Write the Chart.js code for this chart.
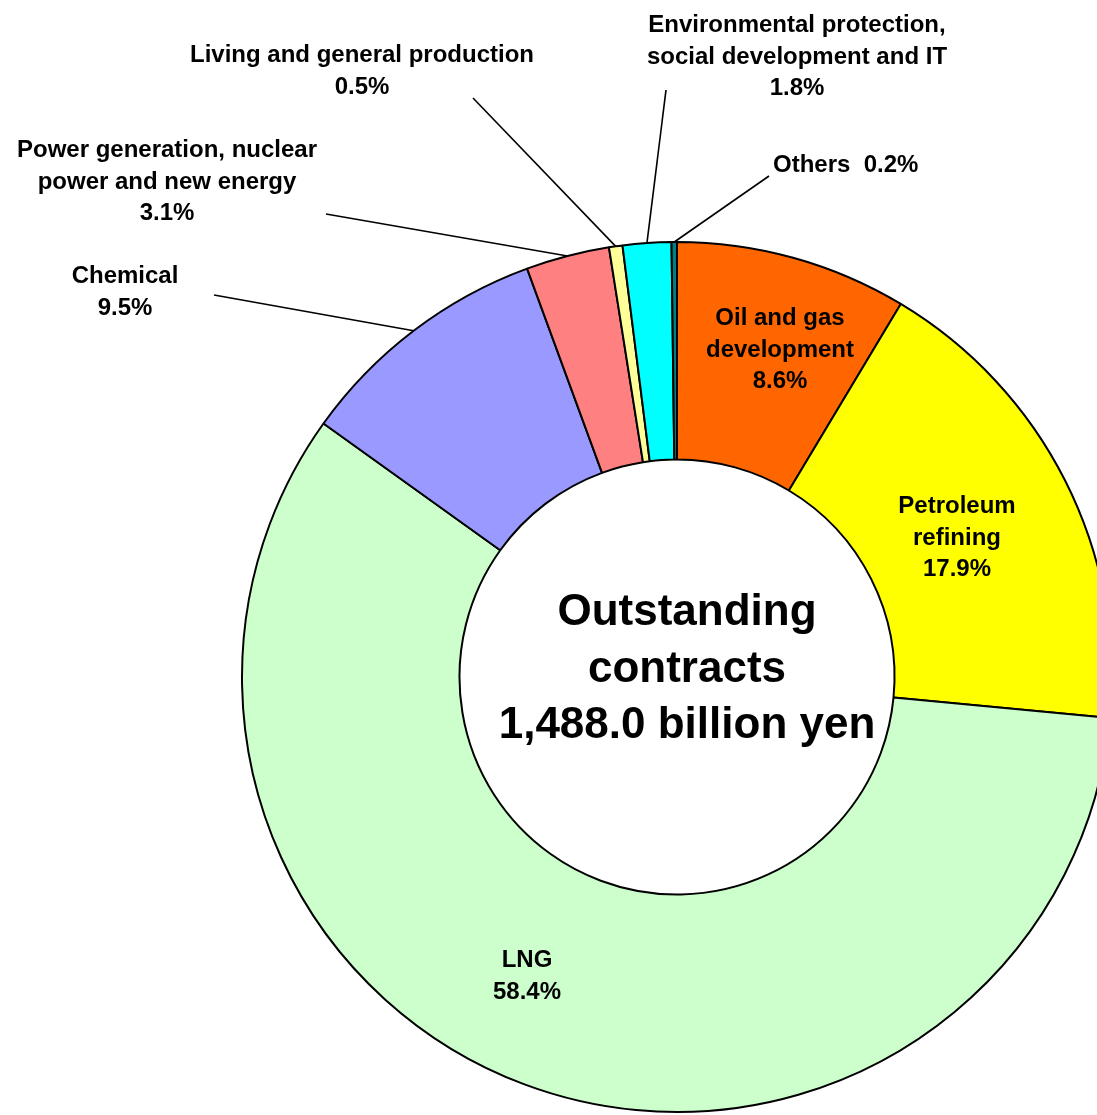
<!DOCTYPE html>
<html>
<head>
<meta charset="utf-8">
<script src="https://cdn.jsdelivr.net/npm/chart.js@4"></script>
<style>
  html, body { margin: 0; padding: 0; background: #fff; overflow: hidden; }
  #wrap { width: 1097px; height: 1115px; overflow: hidden; position: relative; }
</style>
</head>
<body>
<div id="wrap"><canvas id="contractsChart" width="1354" height="1115"></canvas></div>
<script>
const categories = [
    "Oil and gas development",
    "Petroleum refining",
    "LNG",
    "Chemical",
    "Power generation, nuclear power and new energy",
    "Living and general production",
    "Environmental protection, social development and IT",
    "Others"
];
const shares = [8.6, 17.9, 58.4, 9.5, 3.1, 0.5, 1.8, 0.2];
const sliceColors = ["#FF6600", "#FFFF00", "#CCFFCC", "#9999FF", "#FF8080", "#FFFF99", "#00FFFF", "#008080"];
const labelLines = [
    ["Oil and gas", "development"],
    ["Petroleum", "refining"],
    ["LNG"],
    ["Chemical"],
    ["Power generation, nuclear", "power and new energy"],
    ["Living and general production"],
    ["Environmental protection,", "social development and IT"],
    ["Others"]
];
const centerLines = ["Outstanding", "contracts", "1,488.0 billion yen"];

// where each label sits (text centre x, first baseline y) and where its leader starts
const labelPlaces = [
    { x: 780, y: 325 },
    { x: 957, y: 513 },
    { x: 527, y: 967 },
    { x: 125, y: 283, from: [214, 295] },
    { x: 167, y: 157, from: [326, 214] },
    { x: 362, y: 62, from: [473, 98] },
    { x: 797, y: 32, from: [666, 90] },
    { x: 773, y: 172, from: [769, 176], inline: true }
];

const FONT = "Liberation Sans, Arial, sans-serif";

const labelPlugin = {
    id: "sliceLabels",
    afterDatasetsDraw(chart) {
        const ctx = chart.ctx;
        const arcs = chart.getDatasetMeta(0).data;
        ctx.save();
        ctx.fillStyle = "#000";
        ctx.strokeStyle = "#000";
        ctx.lineWidth = 1.6;
        arcs.forEach(function (arc, i) {
            const p = arc.getProps(["x", "y", "startAngle", "endAngle", "outerRadius"], true);
            const place = labelPlaces[i];
            const pct = shares[i].toFixed(1) + "%";
            if (place.from) {
                const mid = (p.startAngle + p.endAngle) / 2;
                ctx.beginPath();
                ctx.moveTo(place.from[0], place.from[1]);
                ctx.lineTo(p.x + Math.cos(mid) * p.outerRadius, p.y + Math.sin(mid) * p.outerRadius);
                ctx.stroke();
            }
            ctx.font = "bold 24px " + FONT;
            ctx.textBaseline = "alphabetic";
            if (place.inline) {
                ctx.textAlign = "left";
                ctx.fillText(labelLines[i][0] + "  " + pct, place.x, place.y);
                return;
            }
            ctx.textAlign = "center";
            const lines = labelLines[i].concat([pct]);
            lines.forEach(function (t, k) {
                ctx.fillText(t, place.x, place.y + k * 31.5);
            });
        });

        // centre caption
        const c = arcs[0];
        ctx.font = "bold 44px " + FONT;
        ctx.textAlign = "center";
        centerLines.forEach(function (t, k) {
            ctx.fillText(t, c.x + 10, c.y - 52 + k * 56.5);
        });
        ctx.restore();
    }
};

new Chart(document.getElementById("contractsChart"), {
    type: "doughnut",
    data: {
        labels: categories,
        datasets: [{
            data: shares,
            backgroundColor: sliceColors,
            borderColor: "#000",
            borderWidth: 2
        }]
    },
    options: {
        responsive: false,
        animation: false,
        cutout: "50%",
        layout: { padding: { left: 241, right: 241, top: 241, bottom: 2 } },
        plugins: {
            legend: { display: false },
            tooltip: { enabled: false }
        }
    },
    plugins: [labelPlugin]
});
</script>
</body>
</html>
